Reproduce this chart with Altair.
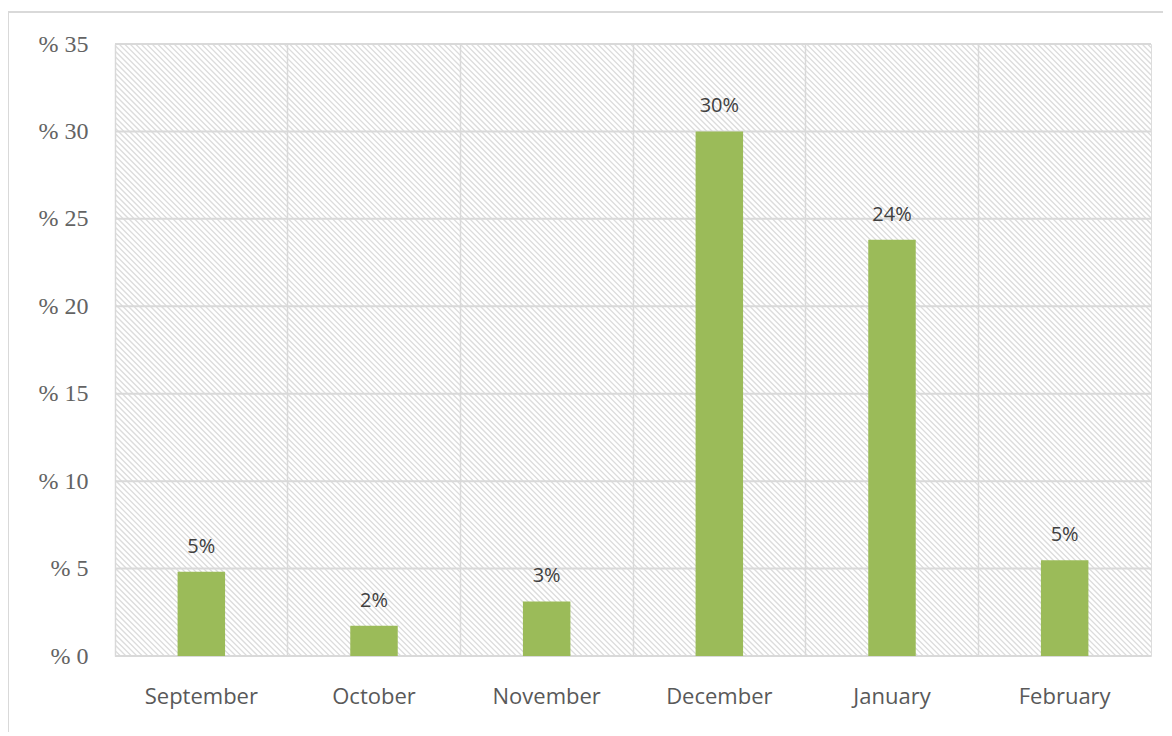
import altair as alt
import pandas as pd

months = ["September", "October", "November", "December", "January", "February"]
values = [4.82, 1.73, 3.12, 30.0, 23.8, 5.47]
y_ticks = [0, 5, 10, 15, 20, 25, 30, 35]

df = pd.DataFrame({"month": months, "value": values})
grid_df = pd.DataFrame({"tick": y_ticks})

W, H = 1036, 612
GRID = "#D9D9D9"

x_enc = alt.X("month:N", sort=months, scale=alt.Scale(paddingInner=0, paddingOuter=0),
              axis=alt.Axis(title=None, grid=True, gridColor=GRID, gridWidth=1.5,
                            domain=False, ticks=False, labelAngle=0,
                            labelFont="Open Sans", labelFontSize=22, labelColor="#595959",
                            labelPadding=30, bandPosition=0, zindex=1))
y_scale = alt.Scale(domain=[0, 35], nice=False)
y_axis = alt.Axis(title=None, grid=False, domain=False, ticks=False,
                  values=y_ticks, labelExpr="'% ' + datum.value",
                  labelFont="Liberation Sans Narrow", labelFontSize=24,
                  labelColor="#636363", labelPadding=27)

# decorative hatch texture of the plot background
hatch = alt.Chart(alt.sequence(start=-H, stop=W, step=5.5, as_="s")).transform_calculate(
    x1="datum.s", x2="datum.s + 612", y1="0", y2="612"
).mark_rule(color="#DCDCDC", strokeWidth=1.3, clip=True).encode(
    x=alt.X("x1:Q", scale=None), x2="x2:Q",
    y=alt.Y("y1:Q", scale=None), y2="y2:Q",
)

hgrid = alt.Chart(grid_df).mark_rule(color=GRID, strokeWidth=2).encode(
    y=alt.Y("tick:Q", scale=y_scale, axis=y_axis),
)

bars = alt.Chart(df).mark_bar(color="#9BBB59", width=alt.RelativeBandSize(0.275)).encode(
    x=x_enc,
    y=alt.Y("value:Q", scale=y_scale, axis=y_axis),
)

labels = alt.Chart(df).transform_calculate(
    lbl="format(datum.value, '.0f') + '%'"
).mark_text(font="Open Sans", fontSize=20, color="#404040", baseline="alphabetic", dy=-19).encode(
    x=x_enc,
    y=alt.Y("value:Q", scale=y_scale, axis=y_axis),
    text="lbl:N",
)

frame_top = alt.Chart(grid_df).mark_rule(color=GRID, strokeWidth=1.5, clip=False).encode(
    x=alt.value(-107), x2=alt.value(W + 40), y=alt.value(-32), y2=alt.value(-32)
)
frame_left = alt.Chart(grid_df).mark_rule(color=GRID, strokeWidth=1.5, clip=False).encode(
    x=alt.value(-107), x2=alt.value(-107), y=alt.value(-32), y2=alt.value(H + 100)
)

chart = alt.layer(hatch, hgrid, bars, labels, frame_top, frame_left).resolve_scale(
    y="shared"
).properties(
    width=W, height=H,
    autosize=alt.AutoSizeParams(type="none"),
    padding={"left": 107, "top": 36, "right": 12, "bottom": 76},
).configure_view(stroke=GRID, strokeWidth=2).configure(background="white")

chart.save("out.html", embed_options={"renderer": "svg", "actions": False})
